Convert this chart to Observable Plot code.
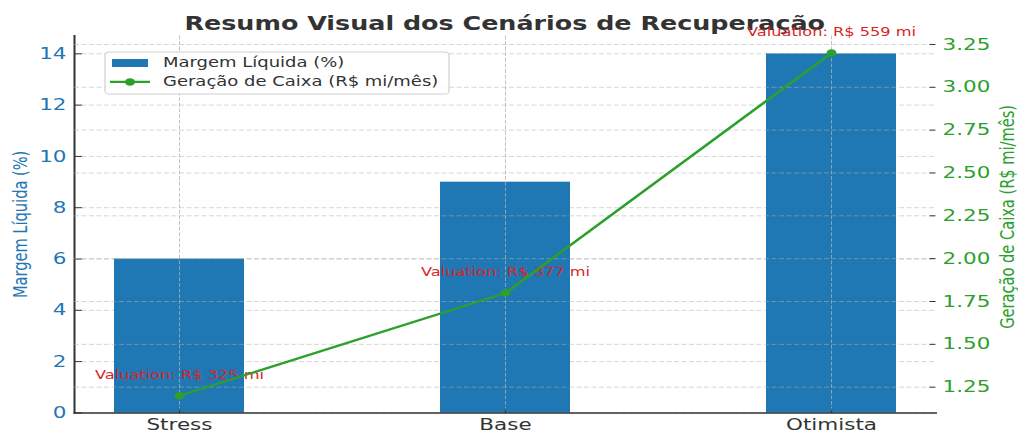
<!DOCTYPE html>
<html><head><meta charset="utf-8">
<script src="https://cdn.jsdelivr.net/npm/d3@7"></script>
<script src="https://cdn.jsdelivr.net/npm/@observablehq/plot@0.6"></script>
<style>
html,body{margin:0;padding:0;background:#fff;overflow:hidden}
#wrap{position:relative;width:1018px;height:600px;transform:scaleY(0.75);transform-origin:0 0;font-family:"DejaVu Sans",sans-serif}
#wrap > svg{position:absolute;left:0;top:0;overflow:visible;background:transparent}
#title{position:absolute;left:0;width:1009.5px;top:18.5px;text-align:center;font-weight:bold;font-size:25.4px;line-height:1;color:#333;white-space:nowrap}
</style></head><body>
<div id="wrap"><div id="title">Resumo Visual dos Cenários de Recuperação</div></div>
<script>
const categorias = ["Stress", "Base", "Otimista"];
const margemLiquida = [6, 9, 14];
const geracaoCaixa = [1.2, 1.8, 3.2];
const valuation = [325, 377, 559];
const ticksMargem = [0, 2, 4, 6, 8, 10, 12, 14];
const ticksCaixa = [1.25, 1.5, 1.75, 2.0, 2.25, 2.5, 2.75, 3.0, 3.25];
const dominioMargem = [0, 14.7];
const dominioCaixa = [1.1, 3.3];

const dados = categorias.map((c, i) => ({cenario: c, margem: margemLiquida[i], caixa: geracaoCaixa[i], valuation: valuation[i]}));

const W = 1018, H = 600, mL = 74, mR = 82.5, mT = 47.33, mB = 50;
const fw = W - mL - mR, fh = H - mT - mB;
const gridStyle = {stroke: "#b0b0b0", strokeOpacity: 0.6, strokeDasharray: "5,2.5", strokeWidth: 1};
const common = {
  width: W, height: H, marginLeft: mL, marginRight: mR, marginTop: mT, marginBottom: mB,
  style: {background: "transparent", overflow: "visible", fontFamily: "DejaVu Sans", fontSize: "21.5px", color: "#333"}
};
const xBand = {type: "band", domain: categorias, paddingInner: 0.6, paddingOuter: 0.12, label: null};

const p1 = Plot.plot({
  ...common,
  x: xBand,
  y: {domain: dominioMargem, label: null},
  marks: [
    Plot.gridY(ticksMargem, gridStyle),
    Plot.barY(dados, {x: "cenario", y: "margem", fill: "#1f77b4"}),
    Plot.gridX(categorias, gridStyle),
    Plot.axisY(ticksMargem, {anchor: "left", tickSize: 0, tickPadding: 8, fill: "#1f77b4", fontSize: 21.5, label: null}),
    Plot.axisY(ticksMargem, {anchor: "right", tickSize: 7, dx: -fw, fill: "none", stroke: "#333", strokeWidth: 1.3, label: null}),
    Plot.axisX(categorias, {anchor: "bottom", tickSize: 0, tickPadding: 7, fill: "#333", fontSize: 21.5, label: null}),
    Plot.axisX(categorias, {anchor: "top", tickSize: 7, dy: fh, fill: "none", stroke: "#333", strokeWidth: 1.3, label: null}),
    Plot.frame({anchor: "left", stroke: "#333", strokeWidth: 2}),
    Plot.frame({anchor: "bottom", stroke: "#333", strokeWidth: 2}),
    Plot.text(["Margem Líquida (%)"], {text: d => d, frameAnchor: "left", textAnchor: "middle", lineAnchor: "middle", rotate: -90, dx: -54, fill: "#1f77b4", fontSize: 19.5})
  ]
});

const p2 = Plot.plot({
  ...common,
  x: {...xBand, axis: null},
  y: {domain: dominioCaixa, label: null},
  marks: [
    Plot.gridY(ticksCaixa, gridStyle),
    Plot.gridX(categorias, gridStyle),
    Plot.text(dados, {x: "cenario", y: "caixa", text: d => `Valuation: R$ ${d.valuation} mi`, dy: -28, lineAnchor: "middle", fill: "#d62728", fontSize: 16.2}),
    Plot.line(dados, {x: "cenario", y: "caixa", stroke: "#2ca02c", strokeWidth: 3}),
    Plot.dot(dados, {x: "cenario", y: "caixa", r: 5, fill: "#2ca02c"}),
    Plot.axisY(ticksCaixa, {anchor: "right", tickSize: 0, tickPadding: 6.5, fill: "#2ca02c", fontSize: 21.5, tickFormat: d3.format(".2f"), label: null}),
    Plot.axisY(ticksCaixa, {anchor: "left", tickSize: 6, dx: fw, fill: "none", stroke: "#333", strokeWidth: 1.3, label: null}),
    Plot.text(["Geração de Caixa (R$ mi/mês)"], {text: d => d, frameAnchor: "right", textAnchor: "middle", lineAnchor: "middle", rotate: -90, dx: 71.5, dy: -10, fill: "#2ca02c", fontSize: 19.5})
  ]
});

const wrap = document.getElementById("wrap");
wrap.appendChild(p1);
wrap.appendChild(p2);

const ns = "http://www.w3.org/2000/svg";
const leg = document.createElementNS(ns, "svg");
leg.setAttribute("width", W); leg.setAttribute("height", H);
leg.innerHTML = `
<rect x="105" y="69.3" width="344" height="56" rx="4" fill="#fff" fill-opacity="0.85" stroke="#d0d0d0" stroke-width="1.2"/>
<rect x="112" y="78.7" width="36" height="10.6" fill="#1f77b4"/>
<line x1="110" x2="150" y1="109.3" y2="109.3" stroke="#2ca02c" stroke-width="3"/>
<circle cx="130" cy="109.3" r="5" fill="#2ca02c"/>
<text x="163" y="88.7" font-family="DejaVu Sans" font-size="18" fill="#333">Margem Líquida (%)</text>
<text x="163" y="114.7" font-family="DejaVu Sans" font-size="18" fill="#333">Geração de Caixa (R$ mi/mês)</text>`;
wrap.appendChild(leg);
</script>
</body></html>
